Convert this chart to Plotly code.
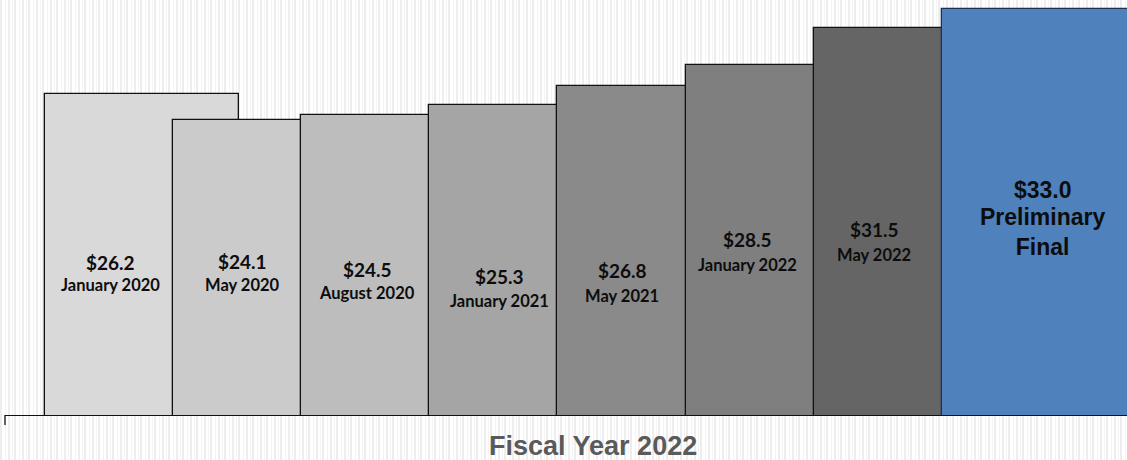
import plotly.graph_objects as go
from urllib.parse import quote

# ---- data ----
categories = ["January 2020", "May 2020", "August 2020", "January 2021",
              "May 2021", "January 2022", "May 2022", "Preliminary Final"]
values = [26.2, 24.1, 24.5, 25.3, 26.8, 28.5, 31.5, 33.0]
value_labels = ["$26.2", "$24.1", "$24.5", "$25.3", "$26.8", "$28.5", "$31.5", "$33.0"]
date_labels = ["January 2020", "May 2020", "August 2020", "January 2021",
               "May 2021", "January 2022", "May 2022", "Preliminary<br>Final"]
axis_title = "Fiscal Year 2022"

# ---- styles ----
bar_colors = ["#d9d9d9", "#cbcbcb", "#bdbdbd", "#a5a5a5", "#8a8a8a", "#7f7f7f", "#656565", "#4f81bd"]
line_colors = ["#111111"] * 7 + ["#1f2f4f"]
label_dx = [-0.246, -0.219, -0.242, -0.211, -0.25, -0.272, -0.286, 0.03]
value_py = [262, 261.5, 269, 276, 270, 239, 229, 190]
date_py = [285, 285, 293, 301, 296, 265, 255, 232]

W, H = 1127, 460
ML, MB = 5, 45
PW, PH = W - ML, H - MB

xs = list(range(len(values)))

fig = go.Figure()
fig.add_trace(go.Bar(
    x=xs, y=values, width=1.514,
    marker=dict(color=bar_colors, line=dict(color=line_colors, width=1.3)),
    hoverinfo="skip", showlegend=False,
))

annotations = []
for i in range(len(values)):
    last = i == len(values) - 1
    fam_v = "Liberation Sans, Arial" if last else "Lato"
    annotations.append(dict(
        x=xs[i] + label_dx[i], xref="x", y=1 - value_py[i] / PH, yref="paper",
        text=f"<b>{value_labels[i]}</b>", showarrow=False, xanchor="center", yanchor="middle",
        font=dict(family=fam_v, size=23 if last else 19, color="#0d0d0d"),
    ))
    annotations.append(dict(
        x=xs[i] + label_dx[i], xref="x", y=1 - date_py[i] / PH, yref="paper",
        text=f"<b>{date_labels[i]}</b>", showarrow=False, xanchor="center", yanchor="middle",
        font=dict(family=fam_v, size=23 if last else 16.5, color="#0d0d0d"),
    ))

annotations.append(dict(
    x=(593 - ML) / PW, xref="paper", y=1 - 445.5 / PH, yref="paper",
    text=f"<b>{axis_title}</b>", showarrow=False, xanchor="center", yanchor="middle",
    font=dict(family="Liberation Sans, Arial", size=27, color="#5a5a5a"),
))

# striped background texture
stripes = []
for x0 in range(0, W, 14):
    stripes.append(f'<rect x="{x0}" y="0" width="2" height="{H}" fill="#ededed"/>')
    stripes.append(f'<rect x="{x0+5}" y="0" width="1" height="{H}" fill="#f3f3f3"/>')
    stripes.append(f'<rect x="{x0+8}" y="0" width="2" height="{H}" fill="#eeeeee"/>')
    stripes.append(f'<rect x="{x0+12}" y="0" width="1" height="{H}" fill="#f4f4f4"/>')
svg = (f'<svg xmlns="http://www.w3.org/2000/svg" width="{W}" height="{H}" '
       f'viewBox="0 0 {W} {H}" preserveAspectRatio="none">'
       f'<rect width="{W}" height="{H}" fill="#ffffff"/>' + "".join(stripes) + '</svg>')
src = "data:image/svg+xml;charset=utf-8," + quote(svg)

fig.update_layout(
    width=W, height=H,
    margin=dict(l=ML, r=0, t=0, b=MB, pad=0),
    paper_bgcolor="#ffffff", plot_bgcolor="rgba(0,0,0,0)",
    barmode="overlay", bargap=0,
    annotations=annotations,
    images=[dict(source=src, xref="paper", yref="paper", x=-ML / PW, y=1,
                 sizex=W / PW, sizey=H / PH, sizing="stretch", layer="below",
                 xanchor="left", yanchor="top")],
    shapes=[dict(type="line", xref="paper", yref="paper", x0=0, x1=0,
                 y0=0, y1=-10 / PH, line=dict(color="#111111", width=1.3))],
    xaxis=dict(range=[-1.07, 7.689], showgrid=False, zeroline=False, showticklabels=False,
               ticks="", showline=True, linecolor="#111111", linewidth=1.3),
    yaxis=dict(range=[0.55, 33.7], showgrid=False, zeroline=False, showticklabels=False,
               ticks="", showline=False),
)

fig.write_html("out.html")
